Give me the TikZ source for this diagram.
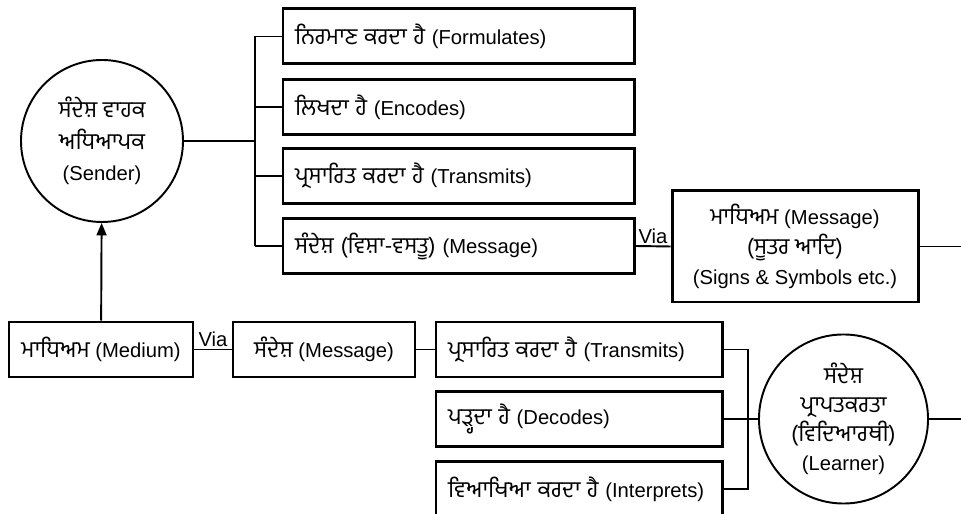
\documentclass[tikz,border=0pt]{standalone}
\usepackage{fontspec}
\setmainfont{Liberation Sans}
\newfontfamily\gur[Script=Gurmukhi, Scale=1.13]{Hind Jalandhar}
\usepackage{tikz}
\usetikzlibrary{arrows.meta}

\begin{document}
\begin{tikzpicture}[
    every node/.style={color=black, font=\fontsize{11.5}{14}\selectfont},
    box/.style={draw, rectangle, line width=1.7pt, minimum height=1.1cm, inner xsep=0.24cm},
    left box/.style={box, align=left, text width=#1},
    mid box/.style={box, align=center, minimum width=#1},
    round node/.style={draw, circle, line width=1.1pt, align=center, minimum size=#1},
    link/.style={line width=1.1pt},
    up arrow/.style={link, -{Triangle[length=0.25cm, width=0.2cm]}},
    ]

    \useasboundingbox (0,0) rectangle (19.22,10.28);

    % sender side
    \node[round node=3.24cm, font=\fontsize{11.5}{18}\selectfont] (sender) at (2.04,7.46)
        {{\gur ਸੰਦੇਸ਼ ਵਾਹਕ}\\{\gur ਅਧਿਆਪਕ}\\(Sender)};
    \node[left box=6.54cm] (form) at (9.17,9.55) {{\gur ਨਿਰਮਾਣ ਕਰਦਾ ਹੈ} (Formulates)};
    \node[left box=6.54cm] (enc)  at (9.17,8.14) {{\gur ਲਿਖਦਾ ਹੈ} (Encodes)};
    \node[left box=6.54cm] (trs)  at (9.17,6.76) {{\gur ਪ੍ਰਸਾਰਿਤ ਕਰਦਾ ਹੈ} (Transmits)};
    \node[left box=6.54cm] (msg)  at (9.17,5.36) {{\gur ਸੰਦੇਸ਼ (ਵਿਸ਼ਾ-ਵਸਤੂ)} (Message)};
    \node[mid box=4.92cm, minimum height=2.22cm, font=\fontsize{11.5}{17}\selectfont] (sym) at (15.9,5.35)
        {{\gur ਮਾਧਿਅਮ} (Message)\\{\gur (ਸੂਤਰ ਆਦਿ)}\\(Signs \& Symbols etc.)};

    % receiver side
    \node[mid box=3.68cm] (medium) at (2.02,3.29) {{\gur ਮਾਧਿਅਮ} (Medium)};
    \node[mid box=3.64cm] (msgb)   at (6.48,3.29) {{\gur ਸੰਦੇਸ਼} (Message)};
    \node[left box=5.24cm] (trr) at (11.58,3.29) {{\gur ਪ੍ਰਸਾਰਿਤ ਕਰਦਾ ਹੈ} (Transmits)};
    \node[left box=5.24cm] (dec) at (11.58,1.90) {{\gur ਪੜ੍ਹਦਾ ਹੈ} (Decodes)};
    \node[left box=5.24cm] (itp) at (11.58,0.50) {{\gur ਵਿਆਖਿਆ ਕਰਦਾ ਹੈ} (Interprets)};
    \node[round node=3.12cm, font=\fontsize{11.5}{16.5}\selectfont] (learner) at (16.87,1.90)
        {{\gur ਸੰਦੇਸ਼}\\{\gur ਪ੍ਰਾਪਤਕਰਤਾ}\\{\gur (ਵਿਦਿਆਰਥੀ)}\\(Learner)};

    % bus lines and free ends
    \coordinate (bus1) at (5.10,0);
    \coordinate (bus2) at (14.96,0);
    \coordinate (edge1) at (19.4,5.35);
    \coordinate (edge2) at (19.4,1.90);

    % top connectors
    \draw[link] (sender.east) -- (sender.east -| bus1);
    \draw[link] (form.west -| bus1) -- (msg.west -| bus1);
    \foreach \b in {form,enc,trs,msg}
        \draw[link] (\b.west) -- (\b.west -| bus1);
    \draw[link] (msg.east) -- node[midway, above, inner sep=1pt] {Via} (sym.west);
    \draw[link] (sym.east) -- (edge1);

    % bottom connectors
    \draw[up arrow] (medium) -- (sender);
    \draw[link] (medium.east) -- node[midway, above, inner sep=1pt] {Via} (msgb.west);
    \draw[link] (msgb.east) -- (trr.west);
    \draw[link] (trr.east) -| (bus2 |- itp.east) -- (itp.east);
    \draw[link] (dec.east) -- (learner.west);
    \draw[link] (learner.east) -- (edge2);
\end{tikzpicture}
\end{document}
